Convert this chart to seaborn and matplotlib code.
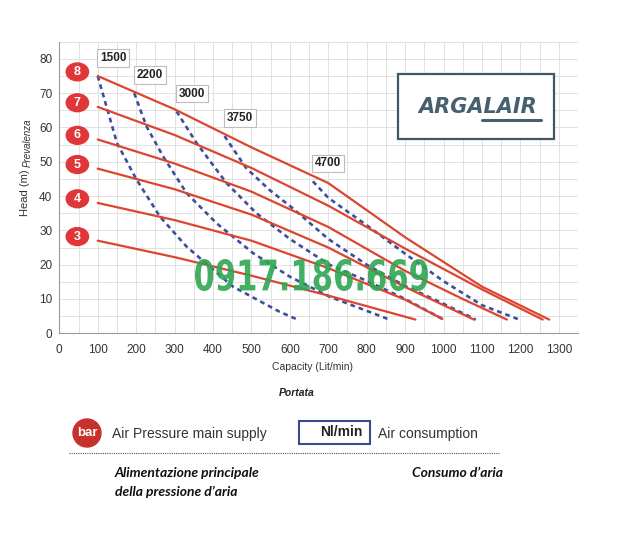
import numpy as np
import pandas as pd
import seaborn as sns
import matplotlib
matplotlib.use('Agg')
import matplotlib.pyplot as plt
from matplotlib.patches import Ellipse, Rectangle, PathPatch
from matplotlib.lines import Line2D
from matplotlib.textpath import TextPath
from matplotlib.font_manager import FontProperties
from matplotlib.transforms import Affine2D

# Pressure curves (bar) - capacity (Lit/min) vs head (m)
bar_levels = [8, 7, 6, 5, 4, 3]
bar_x = {
    8: [100, 300, 500, 700, 900, 1100, 1275],
    7: [100, 300, 500, 700, 900, 1100, 1258],
    6: [100, 300, 500, 700, 900, 1050, 1165],
    5: [100, 300, 500, 700, 900, 1079],
    4: [100, 300, 500, 700, 900, 997],
    3: [100, 300, 500, 700, 927],
}
bar_y = {
    8: [75, 65.3, 54.2, 43.8, 28.0, 13.6, 4],
    7: [66, 57.8, 48.2, 37.2, 24.7, 12.8, 4],
    6: [56.5, 49.5, 41.3, 31.0, 18.2, 10.0, 4],
    5: [48, 42.0, 34.6, 25.0, 13.5, 4],
    4: [38, 33.0, 27.0, 19.0, 9.8, 4.2],
    3: [27, 22.2, 16.8, 11.0, 4],
}

# Air consumption curves (Nl/min)
air_levels = [1500, 2200, 3000, 3750, 4700]
air_x = {
    1500: [100, 150, 200, 262, 331, 452, 573, 620],
    2200: [195, 227, 270, 331, 409, 504, 600, 703, 857],
    3000: [305, 357, 435, 513, 600, 703, 800, 900, 997],
    3750: [430, 486, 547, 607, 700, 800, 900, 1000, 1084],
    4700: [660, 700, 800, 900, 1000, 1100, 1197],
}
air_y = {
    1500: [75, 55.5, 45, 34, 25.3, 13.6, 6.3, 4],
    2200: [70, 60.3, 51.6, 40.9, 32.1, 23.4, 16.5, 10.7, 4.1],
    3000: [64.7, 55.5, 43.8, 35, 27.5, 20.0, 15.3, 10, 4.2],
    3750: [57.5, 48.2, 41.8, 36.5, 27.5, 20, 13.8, 8.6, 4],
    4700: [44.3, 39.5, 31.5, 23.2, 15.2, 8.2, 4],
}

x_ticks = list(range(0, 1301, 100))
y_ticks = list(range(0, 81, 10))
phone = "0917.186.669"

RED = '#dc4530'
BADGE = '#e0363a'
BLUE = '#3d4f9c'

df_p = pd.concat([pd.DataFrame({'capacity': bar_x[b], 'head': bar_y[b], 'bar': b}) for b in bar_levels])
df_a = pd.concat([pd.DataFrame({'capacity': air_x[a], 'head': air_y[a], 'air': a}) for a in air_levels])

sns.set_theme(style='white')
plt.rcParams['font.family'] = ['Liberation Sans', 'DejaVu Sans']

W, H = 623, 549
fig = plt.figure(figsize=(W / 100, H / 100), dpi=100)
ax = fig.add_axes([59.3 / W, 1 - 333.3 / H, (578 - 59.3) / W, (333.3 - 41.7) / H])


def fx(px):
    return px / W


def fy(py):
    return 1 - py / H


# Grid
ax.set_xlim(0, 1350)
ax.set_ylim(0, 85)
ax.set_xticks(x_ticks)
ax.set_yticks(y_ticks)
ax.xaxis.set_minor_locator(matplotlib.ticker.MultipleLocator(50))
ax.yaxis.set_minor_locator(matplotlib.ticker.MultipleLocator(5))
ax.grid(which='both', color='#e2e2e2', lw=0.7)
ax.set_axisbelow(True)
for s in ['top', 'right']:
    ax.spines[s].set_visible(False)
for s in ['left', 'bottom']:
    ax.spines[s].set_color('#9a9a9a')
    ax.spines[s].set_linewidth(0.8)
ax.tick_params(which='major', length=3, color='#9a9a9a', labelsize=8.5, labelcolor='#333333')
ax.tick_params(which='minor', length=0)
ax.tick_params(axis='x', pad=5)
ax.tick_params(axis='y', pad=2)

# Curves
sns.lineplot(data=df_a, x='capacity', y='head', units='air', estimator=None, sort=False,
             color=BLUE, lw=1.9, linestyle=(0, (1.8, 1.5)), ax=ax, zorder=3)
sns.lineplot(data=df_p, x='capacity', y='head', units='bar', estimator=None, sort=False,
             color=RED, lw=1.6, ax=ax, zorder=4)
ax.set_xlabel('')
ax.set_ylabel('')

# Bar badges
for b in bar_levels:
    yb = bar_y[b][0] + 1.2
    ax.add_patch(Ellipse((47, yb), 58, 5.2, color=BADGE, zorder=5, clip_on=False))
    ax.text(47, yb, str(b), color='white', fontsize=9, fontweight='bold',
            ha='center', va='center', zorder=6)

# Air consumption labels
for a in air_levels:
    ax.text(air_x[a][0] + 40, air_y[a][0] + 5.2, str(a), fontsize=8.5, fontweight='bold',
            color='#222222', ha='center', va='center', zorder=6,
            bbox=dict(boxstyle='square,pad=0.25', fc='white', ec='#bdbdbd', lw=0.8))

# Axis labels
fig.text(fx(313), fy(367), 'Capacity (Lit/min)', fontsize=7.5, color='#333333', ha='center', va='center')
fig.text(fx(297), fy(393), 'Portata', fontsize=7.5, fontweight='bold', fontstyle='italic',
         color='#222222', ha='center', va='center')
fig.text(fx(25), fy(193), 'Head (m)', fontsize=8, color='#333333', rotation=90, ha='center', va='center')
fig.text(fx(28), fy(143), 'Prevalenza', fontsize=7, fontstyle='italic', color='#333333',
         rotation=90, ha='center', va='center')

# Logo box
fig.add_artist(Rectangle((fx(398), fy(139)), (554 - 398) / W, (139 - 74) / H, transform=fig.transFigure,
                         fc='white', ec='#3f5868', lw=1.6, zorder=5))
fig.text(fx(478), fy(107), 'ARGALAIR', fontsize=15, fontstyle='italic', fontweight='bold', color='#46606e',
         family='DejaVu Sans', ha='center', va='center', zorder=6)
fig.add_artist(Line2D([fx(482), fx(541)], [fy(120), fy(120)], color='#46606e', lw=2.2, zorder=6))

# Watermark
fp = FontProperties(family='DejaVu Sans', weight='bold')
tp = TextPath((0, 0), phone, size=10, prop=fp)
ext = tp.get_extents()
tr = (Affine2D().translate(-ext.x0, -ext.y0)
      .scale((428 - 195) / ext.width / W, (291 - 259) / ext.height / H)
      .translate(fx(195), fy(291)))
fig.add_artist(PathPatch(tr.transform_path(tp), transform=fig.transFigure,
                         fc='#2ea652', ec='none', alpha=0.9, zorder=7))

# Legend
fig.add_artist(Ellipse((fx(87), fy(433)), 28 / W, 28 / H, transform=fig.transFigure,
                       color='#c8302c', zorder=5))
fig.text(fx(87), fy(433), 'bar', fontsize=9.5, fontweight='bold', color='white', ha='center', va='center',
         zorder=6)
fig.text(fx(112), fy(434), 'Air Pressure main supply', fontsize=10, color='#333333', ha='left', va='center')
fig.add_artist(Rectangle((fx(299), fy(444)), (370 - 299) / W, (444 - 421) / H, transform=fig.transFigure,
                         fc='white', ec='#3b4a8c', lw=1.5, zorder=5))
fig.text(fx(341), fy(432), 'Nl/min', fontsize=10, fontweight='bold', color='#222222',
         ha='center', va='center', zorder=6)
fig.text(fx(378), fy(434), 'Air consumption', fontsize=10, color='#333333', ha='left', va='center')
fig.add_artist(Line2D([fx(69), fx(500)], [fy(453), fy(453)], color='#555555', lw=0.8,
                      linestyle=(0, (1, 1))))

fig.text(fx(115), fy(473), 'Alimentazione principale', fontsize=10, fontweight='bold', fontstyle='italic',
         family='Lato', color='#111111', ha='left', va='center')
fig.text(fx(115), fy(492), 'della pressione d\u2019aria', fontsize=10, fontweight='bold', fontstyle='italic',
         family='Lato', color='#111111', ha='left', va='center')
fig.text(fx(503), fy(473), 'Consumo d\u2019aria', fontsize=10, fontweight='bold', fontstyle='italic',
         family='Lato', color='#111111', ha='right', va='center')

fig.savefig('out.png', dpi=100, facecolor='white')
